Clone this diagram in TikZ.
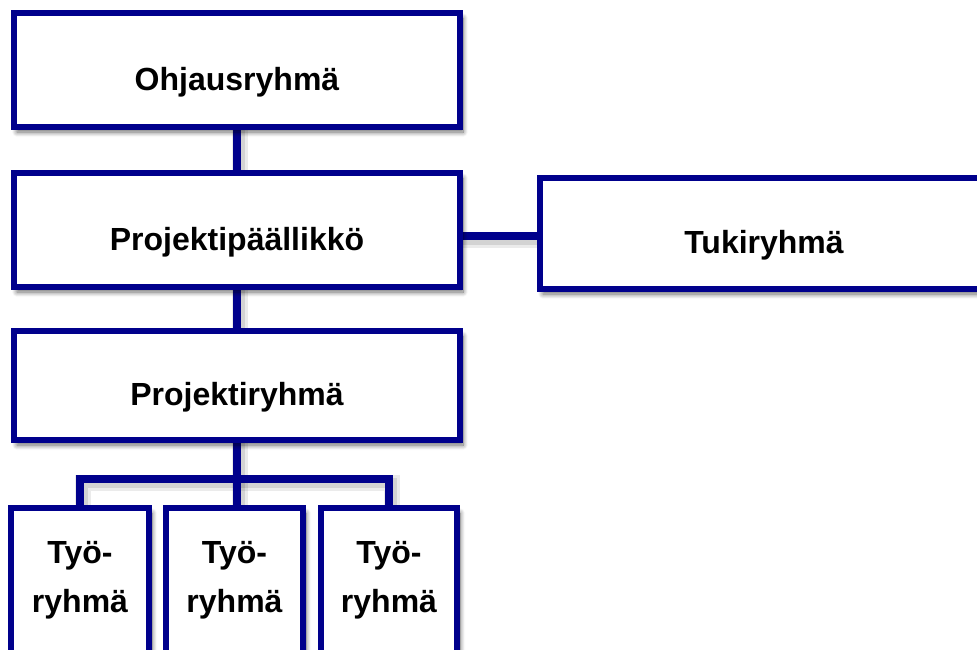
\documentclass[tikz,border=0pt]{standalone}
\usepackage{fontspec}
\setmainfont{Liberation Sans}
\usetikzlibrary{shadows.blur}
\pgfdeclarelayer{bg}
\pgfsetlayers{bg,main}
\definecolor{navy}{RGB}{0,0,140}
\begin{document}
\begin{tikzpicture}[x=1pt,y=-1pt,
  box/.style={draw=navy, line width=6.3pt, fill=white, inner sep=0pt, outer sep=0pt,
    font=\fontsize{32}{49}\selectfont\bfseries, text height=40pt, text depth=0pt,
    blur shadow={shadow xshift=3pt, shadow yshift=-5pt, shadow blur steps=10,
      shadow opacity=60, shadow blur radius=5pt}},
  wbox/.style={box, text height=0pt, text depth=90pt},
  link/.style={draw=navy, line width=8.5pt,
    preaction={draw=black, opacity=.08, line width=16pt, transform canvas={shift={(3pt,-4pt)}}},
    preaction={draw=black, opacity=.1, line width=10pt, transform canvas={shift={(3pt,-4pt)}}}}]
\path[use as bounding box, clip] (0,0) rectangle (977,649);
\node[box, minimum width=446pt, minimum height=114pt] (ohj) at (237,70) {Ohjausryhmä};
\node[box, minimum width=446pt, minimum height=114pt] (pp) at (237,230) {Projektipäällikkö};
\node[box, minimum width=448pt, minimum height=111pt] (tuki) at (764,233.5) {Tukiryhmä};
\node[box, minimum width=446pt, minimum height=109pt] (pr) at (237,385.5) {Projektiryhmä};
\node[wbox, minimum width=138pt, minimum height=200pt] (w1) at (80,608) {\begin{tabular}[t]{@{}c@{}}Työ-\\ryhmä\end{tabular}};
\node[wbox, minimum width=137pt, minimum height=200pt] (w2) at (234.5,608) {\begin{tabular}[t]{@{}c@{}}Työ-\\ryhmä\end{tabular}};
\node[wbox, minimum width=136pt, minimum height=200pt] (w3) at (389,608) {\begin{tabular}[t]{@{}c@{}}Työ-\\ryhmä\end{tabular}};
\coordinate (bus) at (237,479);
\begin{pgfonlayer}{bg}
\draw[link] (ohj.center) -- (pp.center);
\draw[link] (pp.center) -- (pr.center);
\draw[link] ([yshift=-6pt]pp.center) -- ([yshift=-6pt]pp.center -| tuki.center);
\draw[link] (pr.center) -- (bus);
\draw[link] (w1.center) |- (bus) -| (w3.center);
\draw[link] (bus) -- (bus |- w2.north);
\end{pgfonlayer}
\end{tikzpicture}
\end{document}
